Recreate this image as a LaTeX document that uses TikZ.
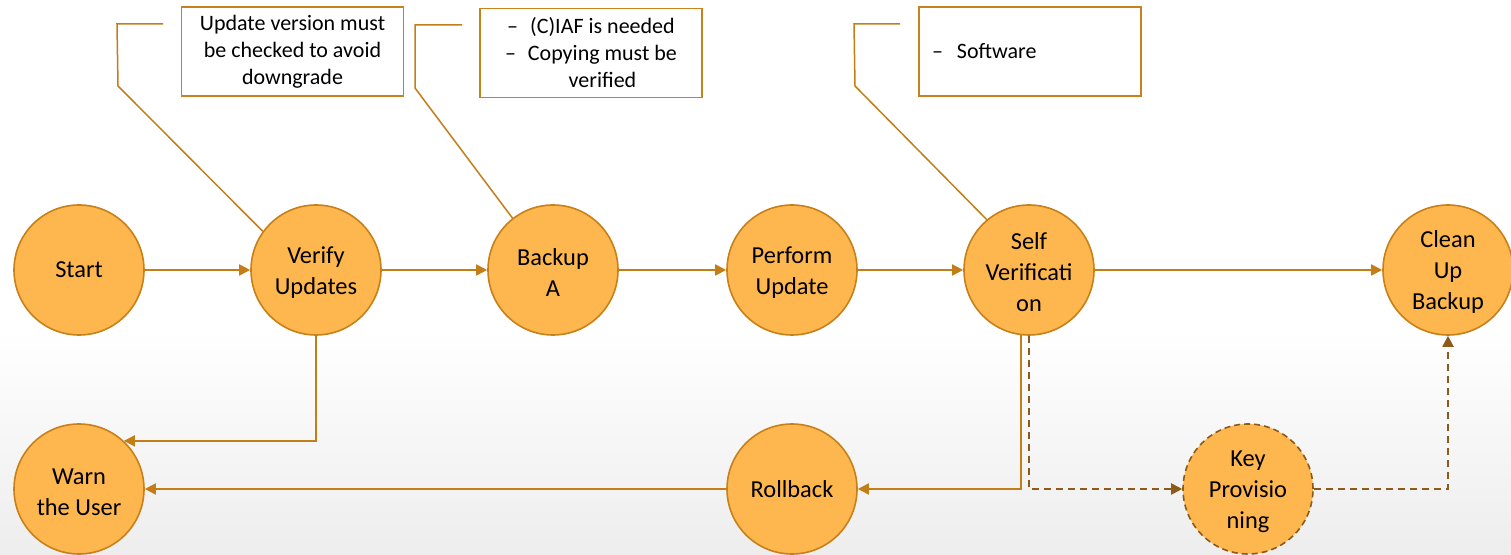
\documentclass[tikz,border=0pt]{standalone}
\usepackage{fontspec}
\setmainfont{Carlito}
\usetikzlibrary{arrows.meta}
\definecolor{stepfill}{HTML}{FDB74E}
\definecolor{stepedge}{HTML}{C88019}
\definecolor{flowline}{HTML}{C47E17}
\definecolor{optline}{HTML}{8C5B17}
\definecolor{notebox}{HTML}{C9811C}
\tikzset{
  stepnode/.style={circle, fill=stepfill, draw=stepedge, line width=0.8pt,
    minimum size=65pt, inner sep=0pt, align=center,
    font=\fontsize{12.2}{15.5}\selectfont},
  optnode/.style={stepnode, draw=optline, dashed, dash pattern=on 3pt off 2pt},
  flow/.style={draw=flowline, line width=0.9pt,
    -{Triangle[length=5.5pt,width=5.5pt]}},
  optflow/.style={draw=optline, line width=1pt, dash pattern=on 3.5pt off 2.5pt,
    -{Triangle[length=5.5pt,width=5.5pt]}},
  callout/.style={draw=flowline, line width=0.75pt},
  notenode/.style={draw=notebox, line width=0.8pt, fill=white,
    minimum width=111pt, minimum height=44.5pt, inner sep=0pt, align=center,
    font=\fontsize{11}{13.5}\selectfont}
}
\begin{document}
\begin{tikzpicture}[x=0.5pt,y=-0.5pt]
  % canvas with a soft grey fade towards the bottom
  \useasboundingbox (0,0) rectangle (1511,555);
  \fill[white] (0,0) rectangle (1511,555);
  \shade[top color=white, bottom color=black!7] (0,330) rectangle (1511,555);

  % process steps
  \node[stepnode] (start)    at (79,270)   {Start};
  \node[stepnode] (verify)   at (316,270)  {\strut Verify\\Updates};
  \node[stepnode] (backup)   at (553,270)  {\strut Backup\\A};
  \node[stepnode] (perform)  at (792,270)  {\strut Perform\\Update};
  \node[stepnode] (self)     at (1029,270) {\strut Self\\Verificati\\on};
  \node[stepnode] (clean)    at (1448,270) {\strut Clean\\Up\\Backup};
  \node[stepnode] (warn)     at (79,489)   {\strut Warn\\the User};
  \node[stepnode] (rollback) at (792,489)  {Rollback};
  \node[optnode]  (keyprov)  at (1248,489) {\strut Key\\Provisio\\ning};

  % notes
  \node[notenode] (note1) at (292.5,51.5)
    {Update version must\\be checked to avoid\\downgrade};
  \node[notenode] (note2) at (591,53)
    {–\hspace{6pt}(C)IAF is needed\\–\hspace{6pt}Copying must be\\\hphantom{–\hspace{6pt}}verified};
  \node[notenode, align=left, text width=98pt, inner xsep=6.5pt] (note3) at (1030,51.5)
    {–\hspace{7pt}Software};

  % callout leaders
  \coordinate (c1a) at (118,86);  \coordinate (c1b) at (117,24);  \coordinate (c1c) at (163,24);
  \coordinate (c2a) at (415,88);  \coordinate (c2b) at (415,25);  \coordinate (c2c) at (462,25);
  \coordinate (c3a) at (855,86);  \coordinate (c3b) at (854,24);  \coordinate (c3c) at (900,24);
  \draw[callout] (verify.144) -- (c1a) -- (c1b) -- (c1c);
  \draw[callout] (backup.128) -- (c2a) -- (c2b) -- (c2c);
  \draw[callout] (self.130)   -- (c3a) -- (c3b) -- (c3c);

  % main flow
  \draw[flow] (start) -- (verify);
  \draw[flow] (verify) -- (backup);
  \draw[flow] (backup) -- (perform);
  \draw[flow] (perform) -- (self);
  \draw[flow] (self) -- (clean);

  % failure paths
  \draw[flow] (verify.south) |- (warn.47.6);
  \draw[flow] (self.263) |- (rollback);
  \draw[flow] (rollback) -- (warn);

  % optional key provisioning
  \draw[optflow] (self.south) |- (keyprov);
  \draw[optflow] (keyprov) -| (clean);
\end{tikzpicture}
\end{document}
